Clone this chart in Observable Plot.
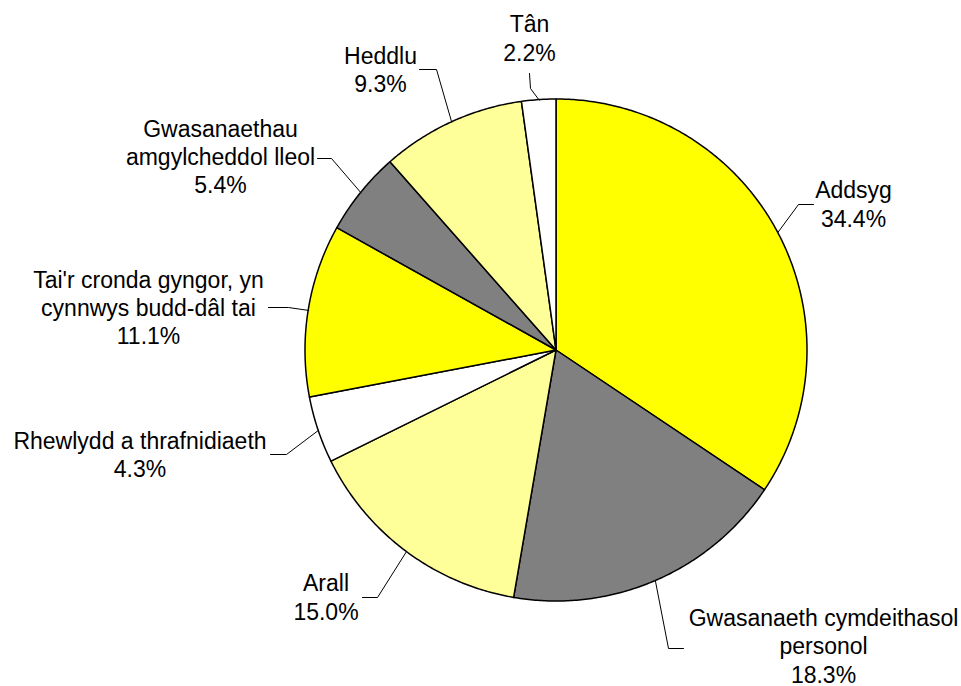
<!DOCTYPE html>
<html>
<head>
<meta charset="utf-8">
<script src="https://cdn.jsdelivr.net/npm/d3@7"></script>
<script src="https://cdn.jsdelivr.net/npm/@observablehq/plot@0.6"></script>
<style>
  html, body { margin: 0; padding: 0; background: #ffffff; }
  #chart svg { display: block; }
</style>
</head>
<body>
<div id="chart"></div>
<script>
// ---- Data (clockwise from 12 o'clock) ----
const categories = [
  "Addsyg",
  "Gwasanaeth cymdeithasol\npersonol",
  "Arall",
  "Rhewlydd a thrafnidiaeth",
  "Tai'r cronda gyngor, yn\ncynnwys budd-dâl tai",
  "Gwasanaethau\namgylcheddol lleol",
  "Heddlu",
  "Tân"
];
const shares = [34.4, 18.3, 15.0, 4.3, 11.1, 5.4, 9.3, 2.2];

// ---- Styles ----
const sliceColors = ["#FFFF00", "#808080", "#FFFF99", "#FFFFFF", "#FFFF00", "#808080", "#FFFF99", "#FFFFFF"];

// ---- Layout (pixel space) ----
const pieCenter = [556, 350];
const pieRadius = 251;
const lineStep = 28.3;
const labelAnchors = [[853, 197.7], [823, 625.5], [325.5, 590.7], [139.5, 448.3], [148, 287], [220, 136], [380, 63.3], [529, 31.7]];
const leaderBends = [
  [[798, 204], [813, 204]],
  [[668, 648], [683, 648]],
  [[377, 597], [362, 597]],
  [[286, 454], [270, 454]],
  [[288, 307], [268, 307]],
  [[331, 158], [317, 158]],
  [[436, 69], [419, 69]],
  [[530, 88], [529, 73]]
];

const [cx, cy] = pieCenter;
const pt = (a, r) => [cx + r * Math.sin(a), cy - r * Math.cos(a)];

const arcs = d3.pie().sort(null).value(d => d)(shares);

// wedge outlines for Plot.area (baseline = center, topline = arc)
const wedgeRows = [];
arcs.forEach((a, i) => {
  const n = Math.max(2, Math.ceil((a.endAngle - a.startAngle) / (Math.PI / 360)));
  for (let k = 0; k <= n; k++) {
    const ang = a.startAngle + (a.endAngle - a.startAngle) * k / n;
    const [x, y] = pt(ang, pieRadius);
    wedgeRows.push({cat: categories[i], fill: sliceColors[i], x1: cx, y1: cy, x2: x, y2: y});
  }
});

// leader lines
const leaderRows = [];
arcs.forEach((a, i) => {
  const mid = (a.startAngle + a.endAngle) / 2;
  const [ex, ey] = pt(mid, pieRadius);
  leaderRows.push({cat: categories[i], x: ex, y: ey});
  leaderBends[i].forEach(([x, y]) => leaderRows.push({cat: categories[i], x, y}));
});

// label text lines
const textRows = [];
categories.forEach((c, i) => {
  const lines = [...c.split("\n"), shares[i].toFixed(1) + "%"];
  lines.forEach((t, j) => textRows.push({t, x: labelAnchors[i][0], y: labelAnchors[i][1] + j * lineStep}));
});

const chart = Plot.plot({
  width: 961,
  height: 686,
  margin: 0,
  style: {background: "#ffffff", overflow: "visible"},
  x: {domain: [0, 961], range: [0, 961], axis: null},
  y: {domain: [0, 686], range: [0, 686], axis: null},
  color: {type: "identity"},
  marks: [
    Plot.area(wedgeRows, {x1: "x1", y1: "y1", x2: "x2", y2: "y2", z: "cat", fill: "fill", stroke: "#000000", strokeWidth: 1.5, strokeLinejoin: "round"}),
    Plot.line(leaderRows, {x: "x", y: "y", z: "cat", stroke: "#000000", strokeWidth: 1}),
    Plot.text(textRows, {x: "x", y: "y", text: "t", lineAnchor: "bottom", textAnchor: "middle", fontSize: 23, fontFamily: "'Liberation Sans', Arial, sans-serif", fill: "#000000"})
  ]
});
document.getElementById("chart").appendChild(chart);
</script>
</body>
</html>
